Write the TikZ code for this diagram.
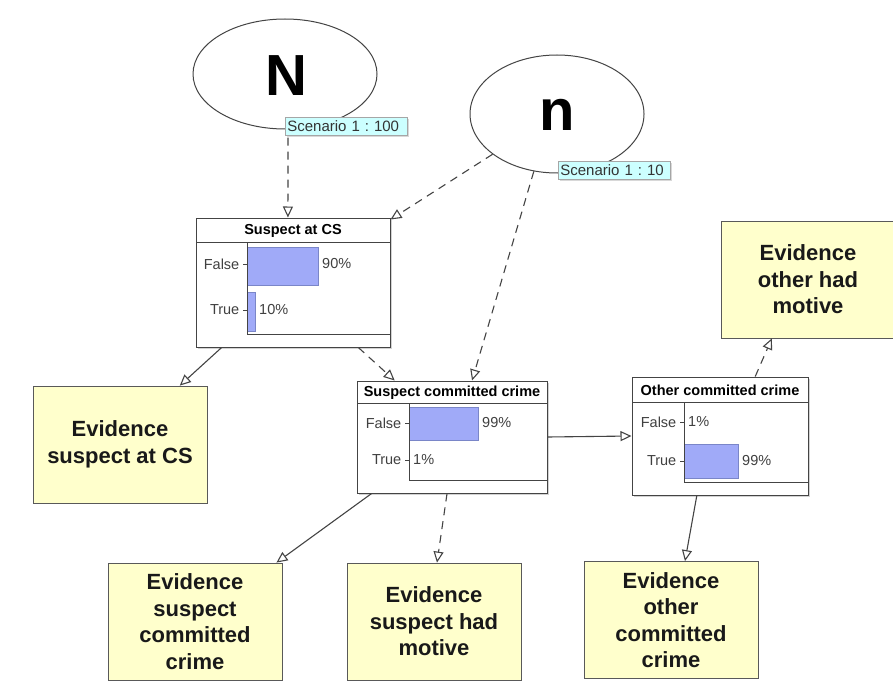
\documentclass[tikz,border=0pt]{standalone}
\usepackage{fontspec}
\setmainfont{Liberation Sans}
\usetikzlibrary{arrows.meta,calc,shadows,shapes.geometric}
\definecolor{lnc}{HTML}{444444}
\definecolor{evfill}{HTML}{FFFFCC}
\definecolor{scfill}{HTML}{CCFFFF}
\definecolor{barfill}{HTML}{A0AAF8}
\definecolor{barline}{HTML}{7A86C8}
\definecolor{lblc}{HTML}{404040}
\frenchspacing
\begin{document}
\begin{tikzpicture}[x=1pt,y=-1pt,
  conn/.style={draw=lnc, line width=1.1pt, -{Triangle[open,length=11pt,width=10pt,fill=white]}},
  dconn/.style={conn, dash pattern=on 8pt off 6pt},
  ev/.style={draw=gray!70!black, fill=evfill, line width=0.8pt, minimum width=174pt, minimum height=117pt, inner sep=0pt, align=center, font=\fontsize{22}{26.5}\selectfont\bfseries, text=black!90},
  bn/.style={draw=lnc, fill=white, line width=1pt, inner sep=0pt, drop shadow={shadow xshift=1.5pt, shadow yshift=-1.5pt, opacity=0.35}},
  oval/.style={ellipse, draw=lnc, line width=1pt, fill=white, inner sep=0pt},
  bigl/.style={font=\fontsize{58}{58}\selectfont\bfseries},
  scn/.style={draw=gray!70, fill=scfill, line width=0.7pt, inner xsep=2pt, inner ysep=0pt, minimum height=18pt, align=left, font=\fontsize{15}{15}\selectfont, text=black!80, drop shadow={shadow xshift=1.5pt, shadow yshift=-1.5pt, opacity=0.3}},
  ttl/.style={font=\fontsize{14.5}{15}\selectfont\bfseries, inner sep=0pt},
  st/.style={font=\fontsize{14.5}{15}\selectfont, text=lblc, inner sep=0pt},
  bar/.style={fill=barfill, draw=barline, line width=0.7pt},
  ax/.style={draw=lnc, line width=1pt},
]
\useasboundingbox[fill=white] (0,0) rectangle (893,687);

% ellipses
\node[oval, minimum width=184pt, minimum height=110pt] (N) at (285,74) {};
\node[bigl] (Nt) at (286,76) {N};
\node[oval, minimum width=174pt, minimum height=118pt] (n) at (557,114) {};
\node[bigl] (nt) at (557,115) {n};
\node[scn, text width=118pt, anchor=north west] (Nlbl) at (285,117) {Scenario 1 : 100};
\node[scn, text width=108pt, anchor=north west] (nlbl) at (558,161) {Scenario 1 : 10};

% Suspect at CS
\node[bn, minimum width=194pt, minimum height=129pt] (sac) at (293,282.5) {};
\draw[ax] (196,242) -- (390,242);
\node[ttl] (sact) at (293,230.5) {Suspect at CS};
\draw[bar] (247,247) rectangle (318,285);
\draw[bar] (247,292) rectangle (255,331);
\draw[ax] (247,242) -- (247,334) -- (390,334);
\draw[ax] (243,264) -- (247,264);
\draw[ax] (243,310) -- (247,310);
\node[st, anchor=east] (sacf) at (239.5,264) {False};
\node[st, anchor=east] (sactr) at (239.5,310) {True};
\node[st, anchor=west] (sacp1) at (322,264) {90\%};
\node[st, anchor=west] (sacp2) at (259,310) {10\%};

% Suspect committed crime
\node[bn, minimum width=190pt, minimum height=112pt] (scc) at (452,437) {};
\draw[ax] (357,403) -- (547,403);
\node[ttl] (scct) at (452,392.5) {Suspect committed crime};
\draw[bar] (409,407) rectangle (478,440);
\draw[ax] (409,403) -- (409,480) -- (547,480);
\draw[ax] (405,423) -- (409,423);
\draw[ax] (405,460) -- (409,460);
\node[st, anchor=east] (sccf) at (401.5,423) {False};
\node[st, anchor=east] (scctr) at (401.5,460) {True};
\node[st, anchor=west] (sccp1) at (482,423) {99\%};
\node[st, anchor=west] (sccp2) at (413,460) {1\%};

% Other committed crime
\node[bn, minimum width=176pt, minimum height=118pt] (occ) at (720,436) {};
\draw[ax] (632,402) -- (808,402);
\node[ttl] (occt) at (720,390) {Other committed crime};
\draw[bar] (684,444) rectangle (738,478);
\draw[ax] (684,402) -- (684,482) -- (808,482);
\draw[ax] (680,422) -- (684,422);
\draw[ax] (680,461) -- (684,461);
\node[st, anchor=east] (occf) at (676.5,422) {False};
\node[st, anchor=east] (occtr) at (676.5,461) {True};
\node[st, anchor=west] (occp1) at (688,422) {1\%};
\node[st, anchor=west] (occp2) at (742,461) {99\%};

% evidence boxes
\node[ev] (esac) at (120,444.5) {Evidence\\suspect at CS};
\node[ev] (escc) at (195,621.5) {Evidence\\suspect\\committed\\crime};
\node[ev] (eshm) at (434,621.5) {Evidence\\suspect had\\motive};
\node[ev] (eocc) at (671,620) {Evidence\\other\\committed\\crime};
\node[ev] (eohm) at (808,279.5) {Evidence\\other had\\motive};

% connectors
\draw[dconn] ($(Nlbl.south west)+(3,2)$) -- ($(sac.north west)!0.474!(sac.north east)$);
\draw[dconn] (n.212.6) -- ($(sac.north east)+(0,2)$);
\draw[dconn] (n.248.5) -- ($(scc.north west)!0.605!(scc.north east)$);
\draw[conn] ($(sac.south west)!0.134!(sac.south east)$) -- ($(esac.north west)!0.842!(esac.north east)$);
\draw[dconn] ($(sac.south west)!0.835!(sac.south east)$) -- ($(scc.north west)!0.2!(scc.north east)$);
\draw[conn] (scc.east) -- (occ.west);
\draw[conn] ($(scc.south west)!0.079!(scc.south east)$) -- ($(escc.north west)!0.966!(escc.north east)$);
\draw[dconn] ($(scc.south west)!0.474!(scc.south east)$) -- ($(eshm.north west)!0.517!(eshm.north east)$);
\draw[conn] ($(occ.south west)!0.369!(occ.south east)$) -- ($(eocc.north west)!0.58!(eocc.north east)$);
\draw[dconn] ($(occ.north west)!0.699!(occ.north east)$) -- ($(eohm.south west)!0.293!(eohm.south east)$);
\end{tikzpicture}
\end{document}
